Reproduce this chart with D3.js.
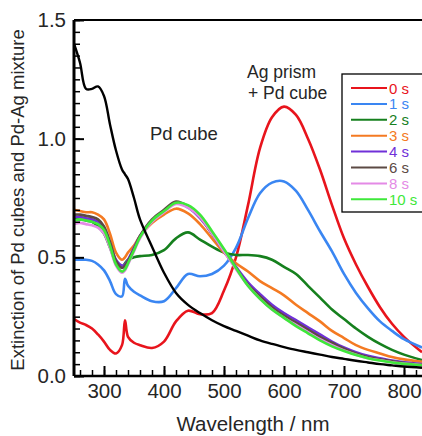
<!DOCTYPE html>
<html>
<head>
<meta charset="utf-8">
<script src="https://cdn.jsdelivr.net/npm/d3@7"></script>
<style>
  body { margin: 0; background: #fff; }
  svg { display: block; font-family: "Liberation Sans", Arial, sans-serif; }
</style>
</head>
<body>
<div id="chart"></div>
<script>
// wavelength grid (nm)
const wavelengths = [250, 260, 270, 280, 290, 300, 310, 320, 330, 335, 340, 350, 360, 380, 400, 420, 440, 460, 480, 500,
  520, 540, 560, 580, 600, 620, 640, 660, 680, 700, 720, 740, 760, 780, 800, 830];

const pdCube = [1.40, 1.32, 1.21, 1.21, 1.22, 1.18, 1.06, 0.95, 0.87, 0.85, 0.83, 0.75, 0.66, 0.545, 0.435, 0.35, 0.30, 0.265, 0.235, 0.21,
  0.19, 0.17, 0.15, 0.135, 0.122, 0.11, 0.10, 0.09, 0.08, 0.072, 0.064, 0.057, 0.05, 0.045, 0.04, 0.035];

const series = ["0 s", "1 s", "2 s", "3 s", "4 s", "6 s", "8 s", "10 s"];
const colors = ["#e8141c", "#3a86f2", "#16801e", "#f47a22", "#7030d8", "#5c4a44", "#e48ae6", "#3ee83a"];

const s0 = [0.24, 0.225, 0.215, 0.20, 0.175, 0.145, 0.11, 0.095, 0.13, 0.235, 0.165, 0.14, 0.13, 0.118, 0.145, 0.23, 0.275, 0.26, 0.265, 0.36,
  0.50, 0.72, 0.96, 1.09, 1.135, 1.10, 1.00, 0.87, 0.72, 0.58, 0.47, 0.375, 0.29, 0.22, 0.165, 0.10];
const s1 = [0.49, 0.49, 0.49, 0.485, 0.47, 0.445, 0.40, 0.345, 0.335, 0.41, 0.38, 0.355, 0.34, 0.315, 0.315, 0.37, 0.43, 0.42, 0.43, 0.465,
  0.54, 0.665, 0.77, 0.815, 0.82, 0.78, 0.70, 0.61, 0.525, 0.43, 0.35, 0.285, 0.23, 0.19, 0.155, 0.12];
const s2 = [0.66, 0.66, 0.655, 0.65, 0.63, 0.60, 0.54, 0.48, 0.46, 0.475, 0.49, 0.50, 0.505, 0.51, 0.53, 0.58, 0.605, 0.575, 0.545, 0.52,
  0.51, 0.51, 0.505, 0.49, 0.46, 0.43, 0.38, 0.33, 0.28, 0.24, 0.20, 0.165, 0.135, 0.11, 0.09, 0.067];
const s3 = [0.70, 0.695, 0.69, 0.69, 0.68, 0.66, 0.60, 0.52, 0.49, 0.50, 0.52, 0.55, 0.59, 0.645, 0.68, 0.705, 0.685, 0.64, 0.58, 0.52,
  0.475, 0.44, 0.40, 0.37, 0.34, 0.30, 0.265, 0.23, 0.19, 0.16, 0.13, 0.11, 0.095, 0.08, 0.07, 0.06];
const s4 = [0.67, 0.67, 0.665, 0.66, 0.65, 0.62, 0.56, 0.49, 0.465, 0.47, 0.49, 0.54, 0.59, 0.655, 0.695, 0.73, 0.71, 0.665, 0.60, 0.53,
  0.46, 0.395, 0.345, 0.30, 0.265, 0.235, 0.205, 0.175, 0.145, 0.12, 0.10, 0.085, 0.075, 0.065, 0.058, 0.05];
const s6 = [0.68, 0.68, 0.675, 0.67, 0.66, 0.63, 0.565, 0.485, 0.455, 0.465, 0.485, 0.535, 0.59, 0.66, 0.70, 0.735, 0.715, 0.67, 0.60, 0.525,
  0.455, 0.385, 0.335, 0.29, 0.255, 0.225, 0.195, 0.165, 0.14, 0.115, 0.095, 0.08, 0.07, 0.062, 0.055, 0.048];
const s8 = [0.64, 0.645, 0.64, 0.635, 0.625, 0.60, 0.54, 0.465, 0.435, 0.445, 0.47, 0.525, 0.58, 0.65, 0.69, 0.725, 0.71, 0.67, 0.60, 0.525,
  0.45, 0.38, 0.325, 0.28, 0.245, 0.215, 0.185, 0.155, 0.13, 0.108, 0.09, 0.075, 0.066, 0.058, 0.052, 0.046];
const s10 = [0.655, 0.66, 0.655, 0.65, 0.64, 0.615, 0.55, 0.47, 0.44, 0.45, 0.475, 0.53, 0.585, 0.655, 0.695, 0.73, 0.72, 0.68, 0.61, 0.535,
  0.455, 0.38, 0.325, 0.28, 0.245, 0.21, 0.18, 0.15, 0.125, 0.105, 0.088, 0.075, 0.065, 0.057, 0.051, 0.045];
const seriesValues = [s0, s1, s2, s3, s4, s6, s8, s10];

const yTickLabels = [0.0, 0.5, 1.0, 1.5];
const xTickLabels = [300, 400, 500, 600, 700, 800];

const width = 422, height = 436;
const margin = { left: 74, top: 20, right: 0, bottom: 60 };
const textColor = "#262626";

const x = d3.scaleLinear().domain([250, 830]).range([margin.left, width - margin.right]);
const y = d3.scaleLinear().domain([0, 1.5]).range([height - margin.bottom, margin.top]);

const svg = d3.select("#chart").append("svg")
  .attr("width", width)
  .attr("height", height);

svg.append("defs").append("clipPath").attr("id", "plot")
  .append("rect")
  .attr("x", margin.left).attr("y", margin.top)
  .attr("width", width - margin.left).attr("height", height - margin.bottom - margin.top);

const line = d3.line()
  .x((d, i) => x(wavelengths[i]))
  .y(d => y(d))
  .curve(d3.curveCatmullRom.alpha(0.5));

const curves = svg.append("g").attr("clip-path", "url(#plot)");

seriesValues.forEach((vals, i) => {
  curves.append("path")
    .datum(vals)
    .attr("d", line)
    .attr("fill", "none")
    .attr("stroke", colors[i])
    .attr("stroke-width", 2.6);
});

curves.append("path")
  .datum(pdCube)
  .attr("d", line)
  .attr("fill", "none")
  .attr("stroke", "#000")
  .attr("stroke-width", 2.4);

// axes with inward ticks
const xMinor = d3.range(260, 831, 20);
const yMinor = d3.range(0, 1.5001, 0.05);

svg.append("g")
  .attr("transform", `translate(0,${y(0)})`)
  .call(d3.axisTop(x).tickValues(xMinor).tickSize(6).tickFormat(""))
  .call(g => g.select(".domain").remove())
  .call(g => g.selectAll("line").attr("stroke-width", 1.5));

svg.append("g")
  .attr("transform", `translate(0,${y(0)})`)
  .call(d3.axisTop(x).tickValues(xTickLabels).tickSize(10).tickFormat(""))
  .call(g => g.select(".domain").remove())
  .call(g => g.selectAll("line").attr("stroke-width", 2));

svg.append("g")
  .attr("transform", `translate(0,${y(0) + 4})`)
  .call(d3.axisBottom(x).tickValues(xTickLabels).tickSize(0))
  .call(g => g.select(".domain").remove())
  .call(g => g.selectAll("text")
    .attr("font-size", 20.5)
    .attr("font-family", "Liberation Sans, Arial, sans-serif")
    .attr("fill", textColor));

svg.append("g")
  .attr("transform", `translate(${x(250)},0)`)
  .call(d3.axisRight(y).tickValues(yMinor).tickSize(6).tickFormat(""))
  .call(g => g.select(".domain").remove())
  .call(g => g.selectAll("line").attr("stroke-width", 1.5));

svg.append("g")
  .attr("transform", `translate(${x(250)},0)`)
  .call(d3.axisRight(y).tickValues(yTickLabels).tickSize(10).tickFormat(""))
  .call(g => g.select(".domain").remove())
  .call(g => g.selectAll("line").attr("stroke-width", 2));

svg.append("g")
  .attr("transform", `translate(${x(250) - 5},0)`)
  .call(d3.axisLeft(y).tickValues(yTickLabels).tickSize(0).tickFormat(d3.format(".1f")))
  .call(g => g.select(".domain").remove())
  .call(g => g.selectAll("text")
    .attr("font-size", 20.5)
    .attr("font-family", "Liberation Sans, Arial, sans-serif")
    .attr("fill", textColor));

// frame
svg.append("line")
  .attr("x1", x(250)).attr("x2", width + 5)
  .attr("y1", y(0)).attr("y2", y(0))
  .attr("stroke", "#000").attr("stroke-width", 2.5);
svg.append("line")
  .attr("x1", x(250)).attr("x2", width + 5)
  .attr("y1", y(1.5)).attr("y2", y(1.5))
  .attr("stroke", "#000").attr("stroke-width", 2);
svg.append("line")
  .attr("x1", x(250)).attr("x2", x(250))
  .attr("y1", y(1.5)).attr("y2", y(0))
  .attr("stroke", "#000").attr("stroke-width", 3);

// axis titles
svg.append("text")
  .attr("x", 253).attr("y", 431)
  .attr("text-anchor", "middle")
  .attr("font-size", 20.5)
  .attr("fill", textColor)
  .text("Wavelength / nm");

svg.append("text")
  .attr("transform", `translate(24,${(y(0) + y(1.5)) / 2 + 2}) rotate(-90)`)
  .attr("text-anchor", "middle")
  .attr("font-size", 18.5)
  .attr("fill", textColor)
  .text("Extinction of Pd cubes and Pd-Ag mixture");

// annotations
svg.append("text").attr("x", 150).attr("y", 140).attr("font-size", 18.5).attr("fill", textColor).text("Pd cube");
svg.append("text").attr("x", 247).attr("y", 78).attr("font-size", 17.5).attr("fill", textColor).text("Ag prism");
svg.append("text").attr("x", 248).attr("y", 99).attr("font-size", 17.5).attr("fill", textColor).text("+ Pd cube");

// legend
const legend = svg.append("g").attr("transform", "translate(342,74)");
legend.append("rect")
  .attr("width", 82).attr("height", 138)
  .attr("fill", "#fff").attr("stroke", "#000").attr("stroke-width", 1.3);

const items = legend.selectAll("g.item")
  .data(series)
  .join("g")
  .attr("class", "item")
  .attr("transform", (d, i) => `translate(0,${14 + i * 15.9})`);

items.append("line")
  .attr("x1", 9).attr("x2", 45)
  .attr("stroke", (d, i) => colors[i])
  .attr("stroke-width", 2);

items.append("text")
  .attr("x", 47).attr("y", 5.5)
  .attr("font-size", 15)
  .attr("fill", (d, i) => colors[i])
  .text(d => d);
</script>
</body>
</html>
